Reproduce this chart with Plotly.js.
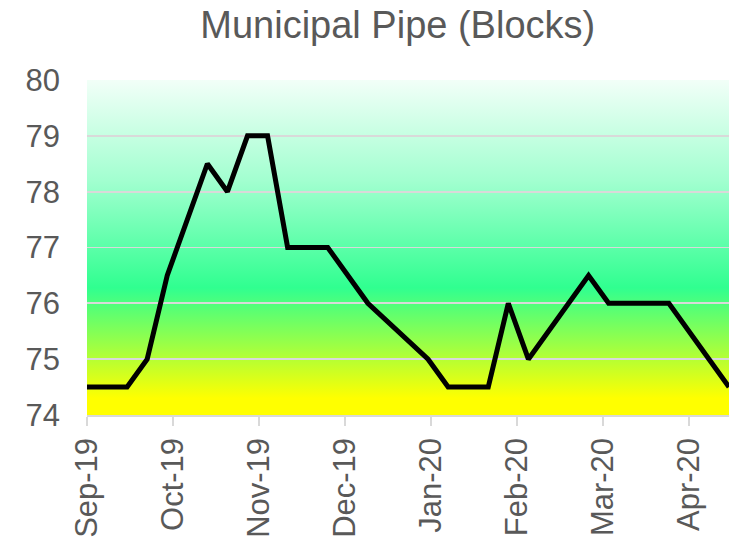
<!DOCTYPE html>
<html>
<head>
<meta charset="utf-8">
<script src="https://cdn.plot.ly/plotly-3.0.1.min.js"></script>
<style>
  html, body { margin: 0; padding: 0; background: #ffffff; }
  #chart { width: 744px; height: 540px; }
</style>
</head>
<body>
<div id="chart"></div>
<script>
// Weekly readings (only the dates where the line visibly changes direction)
const dates = [
  '2019-09-06', '2019-09-20', '2019-09-27', '2019-10-04', '2019-10-18',
  '2019-10-25', '2019-11-01', '2019-11-08', '2019-11-15', '2019-11-29',
  '2019-12-13', '2020-01-03', '2020-01-10', '2020-01-24', '2020-01-31',
  '2020-02-07', '2020-02-28', '2020-03-06', '2020-03-27', '2020-04-17'
];
const blocks = [
  74.5, 74.5, 75, 76.5, 78.5,
  78, 79, 79, 77, 77,
  76, 75, 74.5, 74.5, 76,
  75, 76.5, 76, 76, 74.5
];
const chartTitle = 'Municipal Pipe (Blocks)';
const xRange = ['2019-09-06', '2020-04-17'];
const yRange = [74, 80];

const DAY = 86400000;

const gradSvg =
  '<svg xmlns="http://www.w3.org/2000/svg" width="100" height="100" preserveAspectRatio="none">' +
  '<defs><linearGradient id="g" x1="0" y1="0" x2="0" y2="1">' +
  '<stop offset="0" stop-color="#f2fff8"/>' +
  '<stop offset="0.30" stop-color="#a2ffd0"/>' +
  '<stop offset="0.62" stop-color="#30ff90"/>' +
  '<stop offset="0.95" stop-color="#ffff00"/>' +
  '<stop offset="1" stop-color="#ffff00"/>' +
  '</linearGradient></defs>' +
  '<rect x="0" y="0" width="100" height="100" fill="url(#g)"/></svg>';
const gradUri = 'data:image/svg+xml;charset=utf-8,' + encodeURIComponent(gradSvg);

const FONT = 'Liberation Sans, Arial, sans-serif';
const GREY = '#595959';

const trace = {
  x: dates,
  y: blocks,
  type: 'scatter',
  mode: 'lines',
  line: { color: '#000000', width: 5 },
  hoverinfo: 'x+y'
};

const layout = {
  width: 744,
  height: 540,
  margin: { l: 87, r: 15, t: 80, b: 125, pad: 0 },
  paper_bgcolor: '#ffffff',
  plot_bgcolor: 'rgba(0,0,0,0)',
  showlegend: false,
  font: { family: FONT, color: GREY },
  title: {
    text: chartTitle,
    font: { family: FONT, size: 38, color: GREY },
    xref: 'paper', x: 0.484, xanchor: 'center',
    yref: 'container', y: 0.955, yanchor: 'middle'
  },
  xaxis: {
    type: 'date',
    range: xRange,
    tick0: xRange[0],
    dtick: 30 * DAY,
    tickformat: '%b-%y',
    tickangle: -90,
    ticks: 'outside',
    ticklen: 9,
    tickwidth: 1.5,
    tickcolor: '#d9d9d9',
    showline: true,
    linecolor: '#d9d9d9',
    linewidth: 1.5,
    showgrid: false,
    zeroline: false,
    tickfont: { family: FONT, size: 31, color: GREY }
  },
  yaxis: {
    range: yRange,
    dtick: 1,
    tick0: 74,
    showgrid: true,
    gridcolor: '#d9d9d9',
    gridwidth: 1.8,
    zeroline: false,
    showline: false,
    ticks: '',
    ticklabelstandoff: 26,
    tickfont: { family: FONT, size: 31, color: GREY }
  },
  images: [{
    source: gradUri,
    xref: 'paper', yref: 'paper',
    x: 0, y: 1, sizex: 1, sizey: 1,
    xanchor: 'left', yanchor: 'top',
    sizing: 'stretch',
    layer: 'below'
  }]
};

Plotly.newPlot('chart', [trace], layout, { displayModeBar: false, staticPlot: true });
</script>
</body>
</html>
